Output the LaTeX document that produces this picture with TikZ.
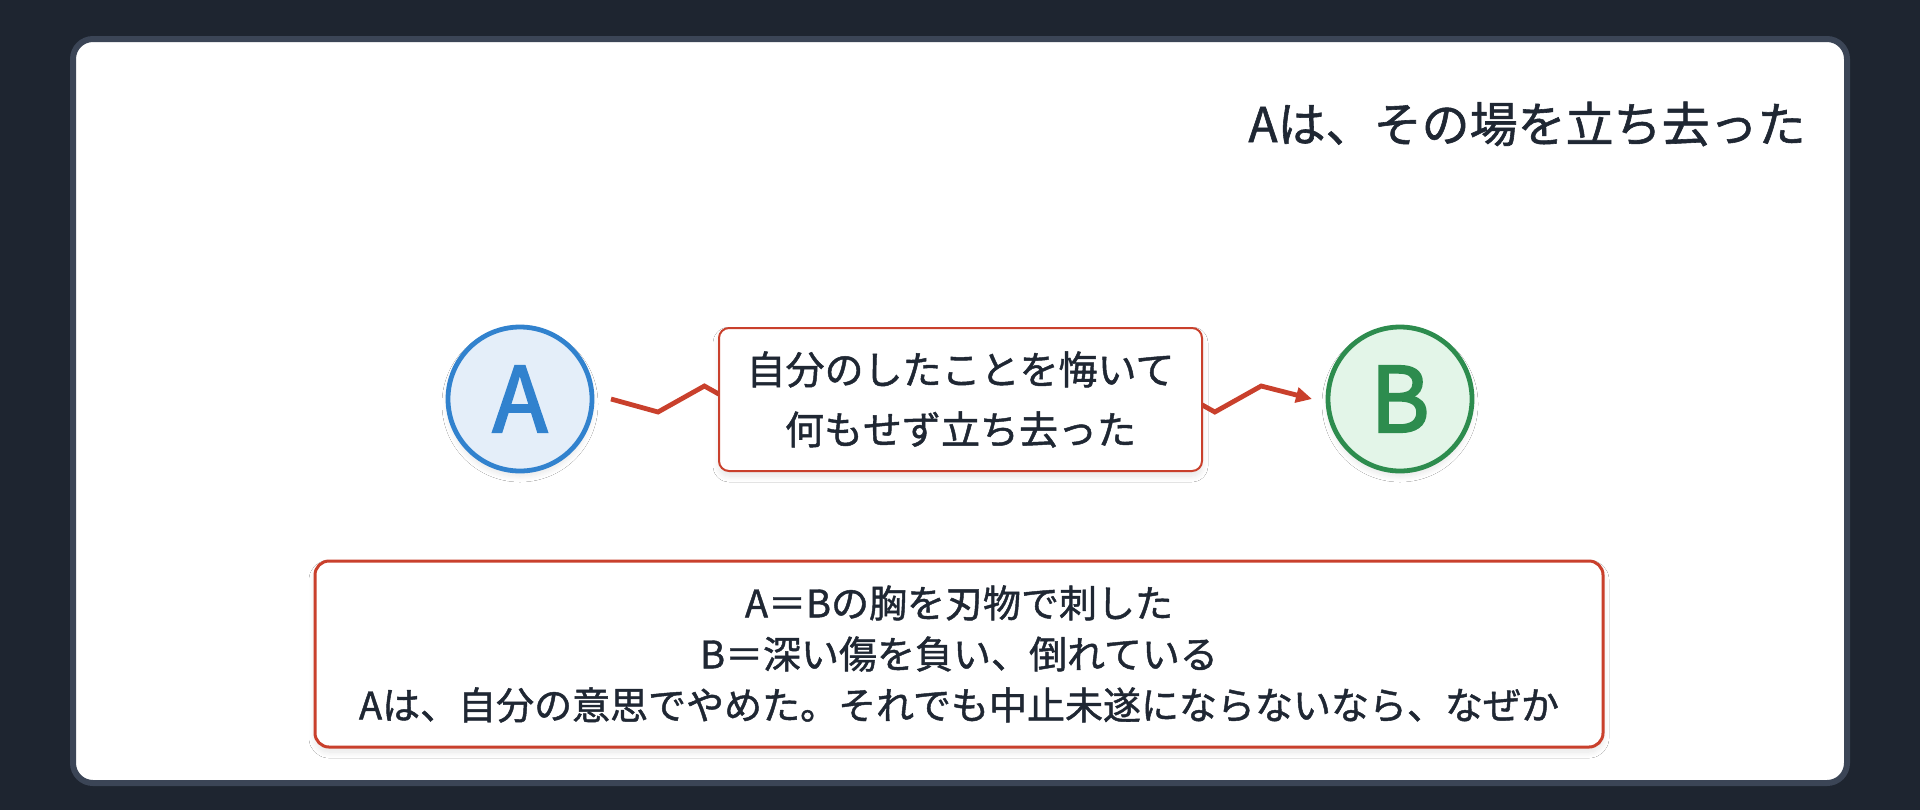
\documentclass[tikz,border=0pt]{standalone}
\usepackage{fontspec}
\newfontfamily\jp{Noto Sans CJK JP}[FakeBold=1.2]
\newfontfamily\jpletter{Noto Sans CJK JP}[FakeBold=2.5]
\usetikzlibrary{arrows.meta,calc,shadows.blur}
\definecolor{bgdark}{HTML}{1E2530}
\definecolor{cardline}{HTML}{3B4556}
\definecolor{txt}{HTML}{1F2733}
\definecolor{redc}{HTML}{C9402C}
\definecolor{blueline}{HTML}{3182CE}
\definecolor{bluefill}{HTML}{E4EEF9}
\definecolor{greenline}{HTML}{2D8C4E}
\definecolor{greenfill}{HTML}{E3F5E8}
\tikzset{
  softshadow/.style={blur shadow={shadow blur steps=10, shadow xshift=0pt, shadow yshift=-2.5pt, shadow blur radius=3pt, shadow opacity=10}},
  person/.style={circle, minimum size=72pt, inner sep=0pt, outer sep=0pt, line width=2.4pt, font=\jpletter\fontsize{45}{45}\selectfont, softshadow},
  pa/.style={person, draw=blueline, fill=bluefill, text=blueline},
  pb/.style={person, draw=greenline, fill=greenfill, text=greenline},
  notebox/.style={draw=redc, line width=1pt, fill=white, rounded corners=5pt, align=center, text=txt, inner sep=0pt, softshadow},
  link/.style={draw=redc, line width=2.4pt, -{Triangle[length=8pt,width=7.5pt]}},
}
\begin{document}
\begin{tikzpicture}[x=0.5pt,y=-0.5pt]
\useasboundingbox (0,0) rectangle (1920,810);
\fill[bgdark] (0,0) rectangle (1920,810);
\draw[cardline, line width=3pt, fill=white, rounded corners=10pt] (73,39) rectangle (1847,783);
\node[anchor=east, inner sep=0pt, text=txt, font=\jp\fontsize{24}{24}\selectfont] (title) at (1806,124) {Aは、その場を立ち去った};
\node[pa] (A) at (520,399) {A};
\node[pb] (B) at (1400,399) {B};
\draw[link] ($(A.east)+(19,0)$) -- ++(47,13)
  -- ++(46.4,-26) -- ++(46.4,26) -- ++(46.4,-26) -- ++(46.4,26)
  -- ++(46.4,-26) -- ++(46.4,26) -- ++(46.4,-26) -- ++(46.4,26)
  -- ++(46.4,-26) -- ++(46.4,26) -- ++(46.4,-26) -- ++(46.4,26)
  -- ++(46.4,-26) -- ($(B.west)+(-16,0)$);
\node[notebox, minimum width=241.5pt, minimum height=71.5pt, font=\jp\fontsize{19.5}{30}\selectfont] (act) at (960.5,399.5) {自分のしたことを悔いて\\何もせず立ち去った};
\node[notebox, line width=1.5pt, rounded corners=7pt, minimum width=644pt, minimum height=93pt, font=\jp\fontsize{19}{25.5}\selectfont] (facts) at (959,654) {A＝Bの胸を刃物で刺した\\B＝深い傷を負い、倒れている\\Aは、自分の意思でやめた。それでも中止未遂にならないなら、なぜか};
\end{tikzpicture}
\end{document}
